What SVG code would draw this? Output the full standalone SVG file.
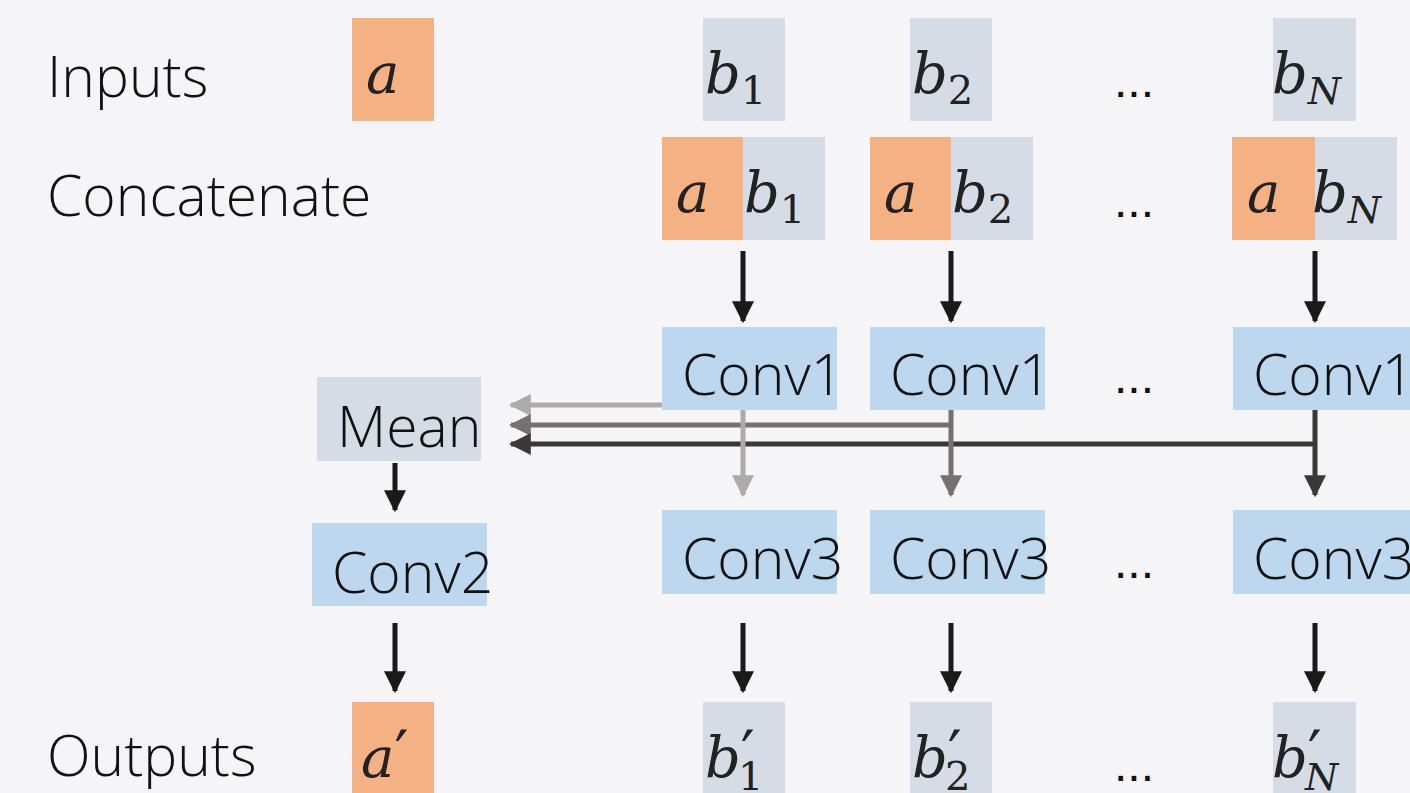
<svg xmlns="http://www.w3.org/2000/svg" width="1410" height="793" viewBox="0 0 1410 793">
  <defs>
    <style>
      .lbl { font-family: "Open Sans", "Liberation Sans", sans-serif; font-weight: 300; font-size: 57px; fill: #111; }
      .row { font-family: "Open Sans", "Liberation Sans", sans-serif; font-weight: 300; font-size: 57px; fill: #111; }
      .math { font-family: "DejaVu Serif", "Liberation Serif", serif; font-style: italic; font-size: 56px; fill: #222; }
      .sub { font-style: normal; font-size: 40px; }
      .subi { font-size: 38px; }
      .prime { font-family: "DejaVu Sans", sans-serif; font-style: normal; font-size: 62px; }
      .dots { font-family: "Liberation Sans", sans-serif; font-size: 48px; fill: #111; }
      .orange { fill: #f4b183; }
      .grey { fill: #d6dce5; }
      .blue { fill: #bdd7ee; }
      .arrow { fill: none; stroke-width: 5; }
    </style>
    <marker id="hBlack" viewBox="0 0 10 10" refX="9" refY="5" markerWidth="4.4" markerHeight="4.4" markerUnits="strokeWidth" orient="auto">
      <path d="M0,0 L10,5 L0,10 z" fill="#1a1a1a"/>
    </marker>
    <marker id="hLight" viewBox="0 0 10 10" refX="9" refY="5" markerWidth="4.4" markerHeight="4.4" markerUnits="strokeWidth" orient="auto">
      <path d="M0,0 L10,5 L0,10 z" fill="#aeaaa9"/>
    </marker>
    <marker id="hMid" viewBox="0 0 10 10" refX="9" refY="5" markerWidth="4.4" markerHeight="4.4" markerUnits="strokeWidth" orient="auto">
      <path d="M0,0 L10,5 L0,10 z" fill="#767170"/>
    </marker>
    <marker id="hDark" viewBox="0 0 10 10" refX="9" refY="5" markerWidth="4.4" markerHeight="4.4" markerUnits="strokeWidth" orient="auto">
      <path d="M0,0 L10,5 L0,10 z" fill="#3b3838"/>
    </marker>
  </defs>

  <rect width="1410" height="793" fill="#f5f5f7"/>

  <!-- row titles -->
  <g id="row-labels">
    <text class="row" x="47" y="97">Inputs</text>
    <text class="row" x="47" y="216">Concatenate</text>
    <text class="row" x="47" y="776">Outputs</text>
  </g>

  <!-- inputs -->
  <g id="in-a">
    <rect class="orange" x="352" y="18" width="82" height="103"/>
    <text class="math" x="366" y="93">a</text>
  </g>
  <g id="in-b1">
    <rect class="grey" x="703" y="18" width="82" height="103"/>
    <text class="math" x="705" y="93">b<tspan class="sub" dy="11">1</tspan></text>
  </g>
  <g id="in-b2">
    <rect class="grey" x="910" y="18" width="82" height="103"/>
    <text class="math" x="912" y="93">b<tspan class="sub" dy="11">2</tspan></text>
  </g>
  <g id="in-dots"><text class="dots" x="1114" y="97">...</text></g>
  <g id="in-bN">
    <rect class="grey" x="1273" y="18" width="83" height="103"/>
    <text class="math" x="1272" y="93">b<tspan class="subi" dy="11">N</tspan></text>
  </g>

  <!-- concatenated pairs -->
  <g id="cat-1">
    <rect class="orange" x="662" y="137" width="81" height="103"/>
    <rect class="grey" x="743" y="137" width="82" height="103"/>
    <text class="math" x="676" y="212">a</text>
    <text class="math" x="744" y="212">b<tspan class="sub" dy="11">1</tspan></text>
  </g>
  <g id="cat-2">
    <rect class="orange" x="870" y="137" width="81" height="103"/>
    <rect class="grey" x="951" y="137" width="82" height="103"/>
    <text class="math" x="884" y="212">a</text>
    <text class="math" x="952" y="212">b<tspan class="sub" dy="11">2</tspan></text>
  </g>
  <g id="cat-dots"><text class="dots" x="1114" y="217">...</text></g>
  <g id="cat-N">
    <rect class="orange" x="1232" y="137" width="83" height="103"/>
    <rect class="grey" x="1315" y="137" width="82" height="103"/>
    <text class="math" x="1247" y="212">a</text>
    <text class="math" x="1312" y="212">b<tspan class="subi" dy="11">N</tspan></text>
  </g>

  <!-- Conv1 layer -->
  <g id="conv1-1">
    <rect class="blue" x="662" y="327" width="175" height="83"/>
    <text class="lbl" x="682" y="395">Conv1</text>
  </g>
  <g id="conv1-2">
    <rect class="blue" x="870" y="327" width="175" height="83"/>
    <text class="lbl" x="890" y="395">Conv1</text>
  </g>
  <g id="conv1-dots"><text class="dots" x="1114" y="393">...</text></g>
  <g id="conv1-N">
    <rect class="blue" x="1233" y="327" width="177" height="83"/>
    <text class="lbl" x="1253" y="395">Conv1</text>
  </g>

  <!-- Mean and Conv2 -->
  <g id="mean">
    <rect class="grey" x="317" y="377" width="164" height="84"/>
    <text class="lbl" x="337" y="447">Mean</text>
  </g>
  <g id="conv2">
    <rect class="blue" x="312" y="523" width="175" height="83"/>
    <text class="lbl" x="332" y="593">Conv2</text>
  </g>

  <!-- Conv3 layer -->
  <g id="conv3-1">
    <rect class="blue" x="662" y="510" width="175" height="84"/>
    <text class="lbl" x="682" y="579">Conv3</text>
  </g>
  <g id="conv3-2">
    <rect class="blue" x="870" y="510" width="175" height="84"/>
    <text class="lbl" x="890" y="579">Conv3</text>
  </g>
  <g id="conv3-dots"><text class="dots" x="1114" y="578">...</text></g>
  <g id="conv3-N">
    <rect class="blue" x="1233" y="510" width="177" height="84"/>
    <text class="lbl" x="1253" y="579">Conv3</text>
  </g>

  <!-- outputs -->
  <g id="out-a">
    <rect class="orange" x="352" y="702" width="82" height="100"/>
    <text class="math" x="361" y="777">a<tspan class="prime" dx="0" dy="-2">′</tspan></text>
  </g>
  <g id="out-b1">
    <rect class="grey" x="703" y="702" width="82" height="100"/>
    <text class="math" x="705" y="777">b<tspan class="prime" dx="0" dy="-2">′</tspan><tspan class="sub" dx="-17" dy="15">1</tspan></text>
  </g>
  <g id="out-b2">
    <rect class="grey" x="910" y="702" width="82" height="100"/>
    <text class="math" x="912" y="777">b<tspan class="prime" dx="0" dy="-2">′</tspan><tspan class="sub" dx="-17" dy="15">2</tspan></text>
  </g>
  <g id="out-dots"><text class="dots" x="1114" y="781">...</text></g>
  <g id="out-bN">
    <rect class="grey" x="1273" y="702" width="83" height="100"/>
    <text class="math" x="1272" y="777">b<tspan class="prime" dx="0" dy="-2">′</tspan><tspan class="subi" dx="-17" dy="15">N</tspan></text>
  </g>

  <!-- connectors -->
  <g id="connectors">
    <!-- concatenate to Conv1 -->
    <line class="arrow" stroke="#1a1a1a" x1="743" y1="251" x2="743" y2="321" marker-end="url(#hBlack)"/>
    <line class="arrow" stroke="#1a1a1a" x1="951" y1="251" x2="951" y2="321" marker-end="url(#hBlack)"/>
    <line class="arrow" stroke="#1a1a1a" x1="1315" y1="251" x2="1315" y2="321" marker-end="url(#hBlack)"/>

    <!-- Conv1 features gathered into Mean -->
    <line class="arrow" stroke="#aeaaa9" x1="662" y1="405" x2="511" y2="405" marker-end="url(#hLight)"/>
    <line class="arrow" stroke="#767170" x1="953" y1="425" x2="511" y2="425" marker-end="url(#hMid)"/>
    <line class="arrow" stroke="#3b3838" x1="1317" y1="444" x2="511" y2="444" marker-end="url(#hDark)"/>

    <!-- Conv1 to Conv3 -->
    <line class="arrow" stroke="#aeaaa9" x1="743" y1="410" x2="743" y2="495" marker-end="url(#hLight)"/>
    <line class="arrow" stroke="#767170" x1="951" y1="410" x2="951" y2="495" marker-end="url(#hMid)"/>
    <line class="arrow" stroke="#3b3838" x1="1315" y1="410" x2="1315" y2="495" marker-end="url(#hDark)"/>

    <!-- Mean to Conv2 -->
    <line class="arrow" stroke="#1a1a1a" x1="395" y1="463" x2="395" y2="510" marker-end="url(#hBlack)"/>

    <!-- Conv2 / Conv3 to outputs -->
    <line class="arrow" stroke="#1a1a1a" x1="395" y1="623" x2="395" y2="691" marker-end="url(#hBlack)"/>
    <line class="arrow" stroke="#1a1a1a" x1="743" y1="623" x2="743" y2="691" marker-end="url(#hBlack)"/>
    <line class="arrow" stroke="#1a1a1a" x1="951" y1="623" x2="951" y2="691" marker-end="url(#hBlack)"/>
    <line class="arrow" stroke="#1a1a1a" x1="1315" y1="623" x2="1315" y2="691" marker-end="url(#hBlack)"/>
  </g>
</svg>
